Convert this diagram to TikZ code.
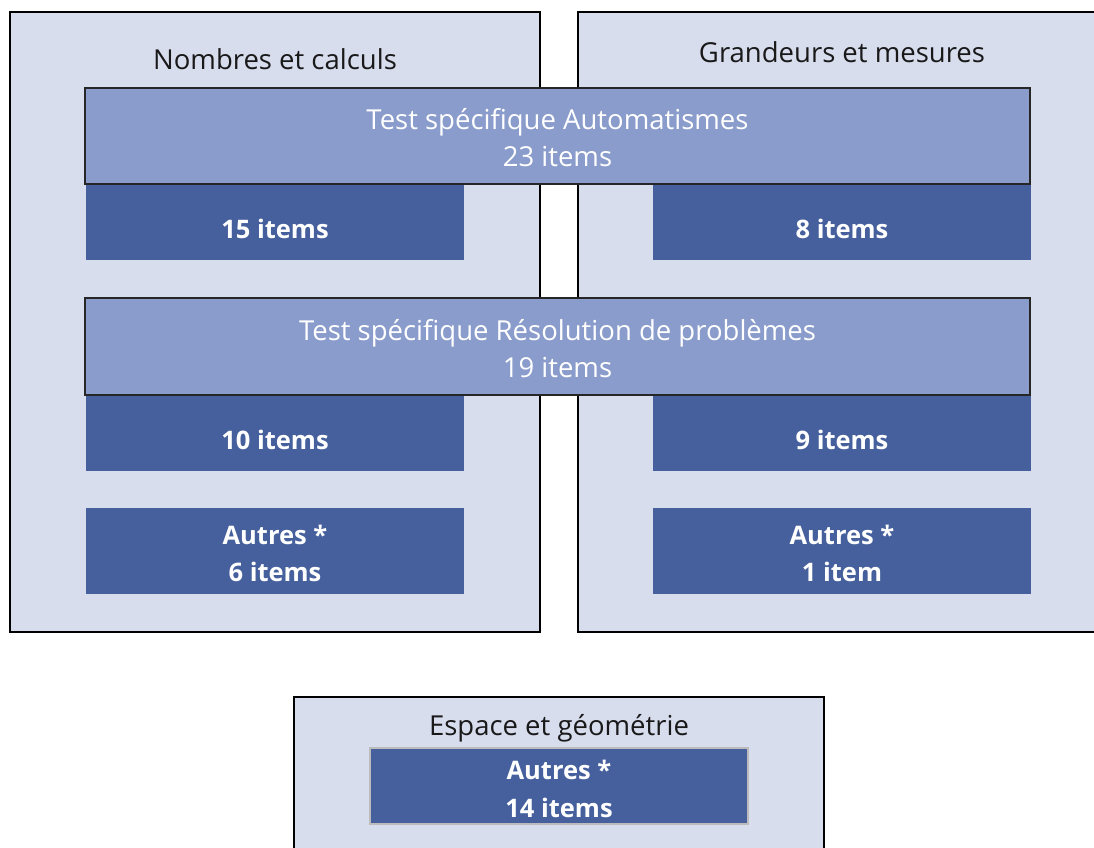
\documentclass[tikz,border=0pt]{standalone}
\usepackage{fontspec}
\setmainfont{Open Sans}
\usetikzlibrary{positioning}
\definecolor{panelbg}{HTML}{D8DDEE}
\definecolor{barbg}{HTML}{8A9CCB}
\definecolor{darkbg}{HTML}{45609C}
\definecolor{barline}{HTML}{262626}
\definecolor{greyline}{HTML}{BBBBBB}
\newcommand{\firstline}{\rule{0pt}{25pt}}
\begin{document}
\begin{tikzpicture}[x=1pt, y=-1pt]
            \tikzstyle{panel} = [rectangle, draw=black, line width=2pt, fill=panelbg, inner sep=0pt, outer sep=0pt]
            \tikzstyle{title} = [inner sep=0pt, anchor=base, font=\fontsize{27.5}{30}\selectfont, text=black!90]
            \tikzstyle{testbar} = [rectangle, draw=barline, line width=2pt, fill=barbg, minimum width=945pt, minimum height=96pt, inner sep=0pt, align=center, text=white, font=\fontsize{27.5}{37}\selectfont]
            \tikzstyle{items} = [rectangle, fill=darkbg, minimum width=378pt, minimum height=76pt, inner sep=0pt, align=center, text=white, font=\fontsize{25.5}{37}\selectfont\bfseries]
            \tikzstyle{oneline} = [text height=32pt, text depth=0pt]
            \useasboundingbox (0, 0) rectangle (1094, 847);
            % domaines
            \node[panel, minimum width=530pt, minimum height=620pt] (nombres) at (275, 322) {};
            \node[panel, minimum width=532pt, minimum height=620pt] (grandeurs) at (844, 322) {};
            \node[panel, minimum width=530pt, minimum height=163pt] (espace) at (559, 778.5) {};
            \node[title] (tnombres) at (275, 69) {Nombres et calculs};
            \node[title] (tgrandeurs) at (842, 62) {Grandeurs et mesures};
            \node[title] (tespace) at (559, 735) {Espace et géométrie};
            % items par domaine
            \node[items, oneline] (nc1) at (275, 222) {15 items};
            \node[items, oneline] (gm1) at (842, 222) {8 items};
            \node[items, oneline] (nc2) at (275, 433) {10 items};
            \node[items, oneline] (gm2) at (842, 433) {9 items};
            \node[items, minimum height=86pt] (nc3) at (275, 551) {\firstline Autres *\\6 items};
            \node[items, minimum height=86pt] (gm3) at (842, 551) {\firstline Autres *\\1 item};
            \node[items, draw=greyline, line width=1.5pt, font=\fontsize{25.5}{38}\selectfont\bfseries] (eg) at (559, 786) {\firstline Autres *\\14 items};
            % tests specifiques
            \node[testbar] (auto) at (557.5, 136) {\firstline Test spécifique Automatismes\\23 items};
            \node[testbar, minimum height=97pt] (reso) at (557.5, 346.5) {\firstline Test spécifique Résolution de problèmes\\19 items};
        \end{tikzpicture}
\end{document}
